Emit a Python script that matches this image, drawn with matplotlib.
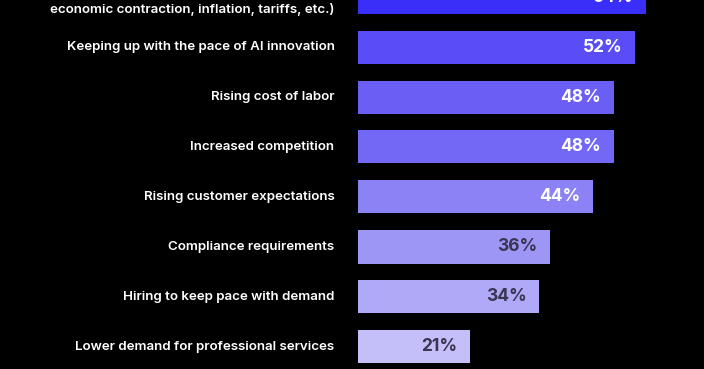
import matplotlib
matplotlib.use("Agg")
import matplotlib.pyplot as plt

categories = [
    "Macroeconomic uncertainty (e.g.,\neconomic contraction, inflation, tariffs, etc.)",
    "Keeping up with the pace of AI innovation",
    "Rising cost of labor",
    "Increased competition",
    "Rising customer expectations",
    "Compliance requirements",
    "Hiring to keep pace with demand",
    "Lower demand for professional services",
]
values = [54, 52, 48, 48, 44, 36, 34, 21]
bar_colors = ["#3a2ff8", "#5a4cf6", "#6a5ef5", "#7268f5", "#8a82f5", "#9e96f5", "#b0a9f7", "#c4bff8"]
label_colors = ["#ffffff", "#ffffff", "#ffffff", "#ffffff", "#ffffff", "#3a3552", "#3a3552", "#3a3552"]

fig = plt.figure(figsize=(7.04, 3.69), dpi=100, facecolor="black")
ax = fig.add_axes([358 / 704, 0, 1 - 358 / 704, 1])
ax.set_facecolor("black")

y = list(range(len(categories)))
ax.barh(y, values, height=0.66, color=bar_colors)

for yi, v, c in zip(y, values, label_colors):
    ax.annotate(f"{v}%", xy=(v, yi), xytext=(-9, 0), textcoords="offset points",
                ha="right", va="center", color=c, fontsize=12.5, fontweight="bold",
                family="Inter", annotation_clip=False)

for yi, cat in zip(y, categories):
    ax.annotate(cat, xy=(0, yi), xytext=(-17, 0), textcoords="offset points",
                ha="right", va="center", color="white", fontsize=9.6, fontweight="semibold",
                family="Inter", linespacing=2.2, annotation_clip=False)

ax.set_xlim(0, (704 - 358) / 5.33)
ax.set_ylim(7.44, 0.06)
ax.axis("off")

fig.savefig("out.png", dpi=100, facecolor="black")
